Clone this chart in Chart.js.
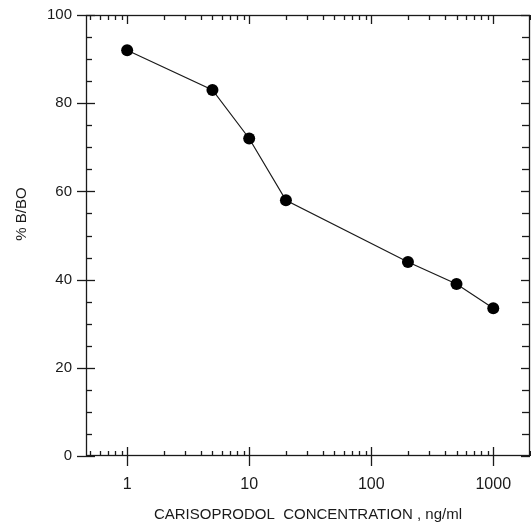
<!DOCTYPE html>
<html>
<head>
<meta charset="utf-8">
<script src="https://cdn.jsdelivr.net/npm/chart.js@4/dist/chart.umd.min.js"></script>
<style>
  body { margin: 0; background: #fff; }
  #wrap { width: 531px; height: 527px; }
</style>
</head>
<body>
<div id="wrap"><canvas id="grafico" width="531" height="527"></canvas></div>
<script>
// datos
const concentracion = [1, 5, 10, 20, 200, 500, 1000]
const porcentaje = [92, 83, 72, 58, 44, 39, 33.5]
const etiquetasX = [1, 10, 100, 1000]
const etiquetasY = [0, 20, 40, 60, 80, 100]
const tituloX = 'CARISOPRODOL  CONCENTRATION , ng/ml'
const tituloY = '% B/BO'

const tinta = '#1a1a1a'

let puntos = concentracion.map(function (c, i) {
    return { x: c, y: porcentaje[i] }
})

let sinRelleno = function (s) {
    s.paddingLeft = 0
    s.paddingRight = 0
    s.paddingTop = 0
    s.paddingBottom = 0
}

// marco, marcas de escala y titulo vertical
let marco = {
    id: 'marco',
    afterDraw: function (chart) {
        let ctx = chart.ctx
        let a = chart.chartArea
        let sx = chart.scales.x
        let sy = chart.scales.y
        ctx.save()
        ctx.strokeStyle = tinta
        ctx.lineWidth = 1.3
        ctx.strokeRect(a.left + 0.5, a.top + 0.5, a.right - a.left - 1, a.bottom - a.top - 1)

        let linea = function (x1, y1, x2, y2) {
            ctx.beginPath()
            ctx.moveTo(x1, y1)
            ctx.lineTo(x2, y2)
            ctx.stroke()
        }

        // eje y: mayores cada 20, menores cada 5
        for (let v = 0; v <= 100; v += 5) {
            let py = Math.round(sy.getPixelForValue(v)) + 0.5
            if (v % 20 === 0) {
                linea(a.left - 9, py, a.left + 9, py)
                linea(a.right - 9, py, a.right, py)
            } else {
                linea(a.left, py, a.left + 6, py)
                linea(a.right - 8, py, a.right, py)
            }
        }

        // eje x logaritmico
        for (let d = 0.1; d <= 1000; d *= 10) {
            for (let m = 1; m <= 9; m++) {
                let v = d * m
                if (v < sx.min || v > sx.max) continue
                let px = Math.round(sx.getPixelForValue(v)) + 0.5
                if (m === 1) {
                    linea(px, a.bottom - 9, px, a.bottom + 10)
                    linea(px, a.top, px, a.top + 9)
                } else {
                    linea(px, a.bottom - 5, px, a.bottom)
                    linea(px, a.top, px, a.top + 5)
                }
            }
        }

        ctx.fillStyle = tinta
        ctx.font = '15px "Liberation Sans", Arial, sans-serif'
        ctx.textAlign = 'center'
        ctx.textBaseline = 'middle'
        ctx.translate(22, 214)
        ctx.rotate(-Math.PI / 2)
        ctx.fillText(tituloY, 0, 0)
        ctx.restore()
    }
}

let miGrafico = new Chart('grafico', {
    type: 'line',
    data: {
        datasets: [{
            data: puntos,
            borderColor: tinta,
            borderWidth: 1.2,
            pointRadius: 6,
            pointBackgroundColor: '#000',
            pointBorderWidth: 0,
            tension: 0,
            clip: false
        }]
    },
    options: {
        responsive: false,
        animation: false,
        devicePixelRatio: 1,
        layout: { autoPadding: false, padding: { top: 15, right: 1, left: 0, bottom: 0 } },
        plugins: { legend: { display: false }, tooltip: { enabled: false } },
        scales: {
            x: {
                type: 'logarithmic',
                min: 0.46,
                max: 2000,
                afterBuildTicks: function (s) {
                    s.ticks = etiquetasX.map(function (v) { return { value: v } })
                },
                afterFit: function (s) { s.height = 71; sinRelleno(s) },
                grid: { display: false, drawTicks: false },
                border: { display: false },
                ticks: {
                    color: tinta,
                    font: { family: '"Liberation Sans", Arial, sans-serif', size: 16 },
                    padding: 19,
                    maxRotation: 0,
                    autoSkip: false,
                    callback: function (v) { return String(v) }
                },
                title: {
                    display: true,
                    text: tituloX,
                    color: tinta,
                    font: { family: '"Liberation Sans", Arial, sans-serif', size: 15 },
                    padding: { top: 0, bottom: 3 }
                }
            },
            y: {
                min: 0,
                max: 100,
                afterBuildTicks: function (s) {
                    s.ticks = etiquetasY.map(function (v) { return { value: v } })
                },
                afterFit: function (s) { s.width = 86; sinRelleno(s) },
                grid: { display: false, drawTicks: false },
                border: { display: false },
                ticks: {
                    color: tinta,
                    font: { family: '"Liberation Sans", Arial, sans-serif', size: 15 },
                    padding: 14
                }
            }
        }
    },
    plugins: [marco]
})
</script>
</body>
</html>
